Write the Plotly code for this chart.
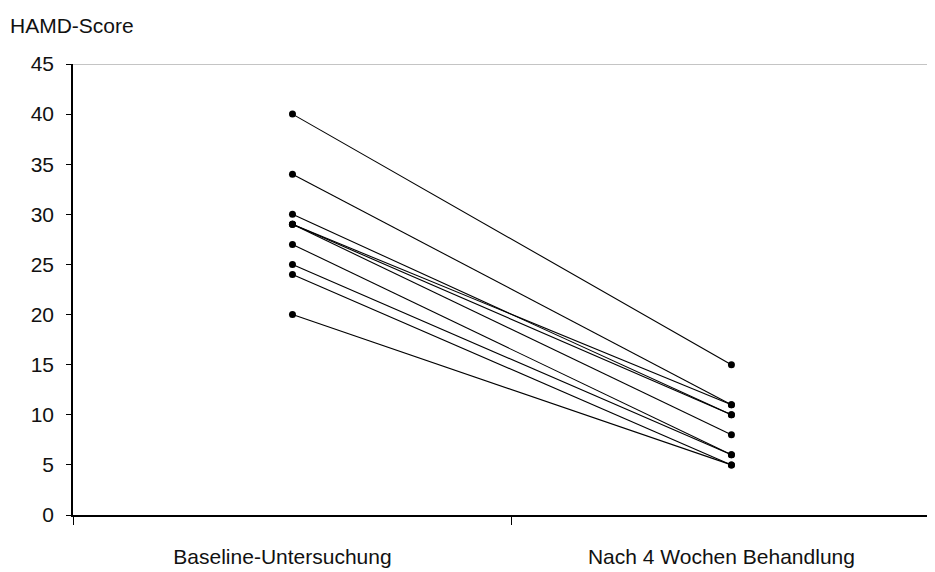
import plotly.graph_objects as go

categories = ["Baseline-Untersuchung", "Nach 4 Wochen Behandlung"]
baseline = [40, 34, 30, 29, 29, 29, 27, 25, 24, 20]
week4 = [15, 11, 10, 11, 10, 8, 6, 6, 5, 5]
y_ticks = [0, 5, 10, 15, 20, 25, 30, 35, 40, 45]
y_title = "HAMD-Score"

FONT = "Liberation Sans, Arial, sans-serif"
TXT = "#111111"

fig = go.Figure()
for b, w in zip(baseline, week4):
    fig.add_trace(go.Scatter(
        x=categories, y=[b, w], mode="lines+markers",
        line=dict(color="black", width=1.1),
        marker=dict(color="black", size=7, symbol="circle"),
        showlegend=False, hoverinfo="y",
    ))

fig.add_shape(type="line", xref="paper", yref="y", x0=0, x1=1, y0=45, y1=45,
              line=dict(color="#8a8a8a", width=1), layer="below")

fig.add_annotation(text=y_title, xref="paper", yref="paper", x=0, y=1,
                   xshift=-65, yshift=39, xanchor="left", yanchor="middle",
                   showarrow=False, font=dict(family=FONT, size=21, color=TXT))

# page body has an 8px margin, so the figure is sized/margined to compensate
fig.update_layout(
    width=935, height=564,
    margin=dict(l=65, r=0, t=56, b=57),
    paper_bgcolor="white", plot_bgcolor="white",
    font=dict(family=FONT, size=21, color=TXT),
    xaxis=dict(
        type="category", categoryorder="array", categoryarray=categories,
        range=[-0.5, 1.482], tickson="boundaries",
        ticks="outside", ticklen=8, tickcolor="black", tickwidth=1,
        showline=True, linecolor="black", linewidth=1.5,
        showgrid=False, zeroline=False, ticklabelstandoff=22,
        ticklabelshift=-10, automargin=False,
        tickfont=dict(family=FONT, size=21, color=TXT),
    ),
    yaxis=dict(
        range=[0, 45], tickvals=y_ticks, ticktext=[str(v) for v in y_ticks],
        ticks="outside", ticklen=5, tickcolor="black", tickwidth=1,
        showline=True, linecolor="black", linewidth=1.5,
        showgrid=False, zeroline=False, ticklabelstandoff=8, automargin=False,
        tickfont=dict(family=FONT, size=21, color=TXT),
    ),
)

fig.write_html("out.html")
